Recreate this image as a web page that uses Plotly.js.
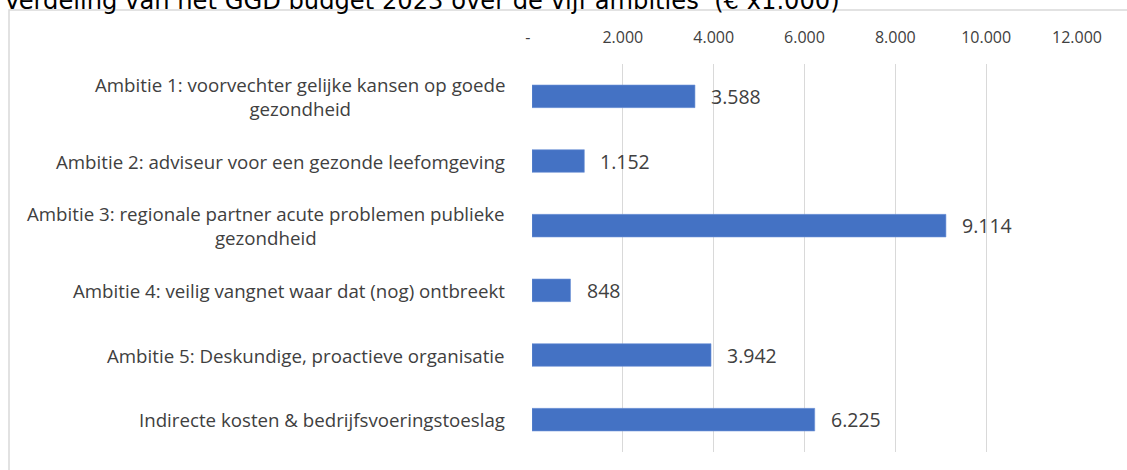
<!DOCTYPE html>
<html>
<head>
<meta charset="utf-8">
<script src="https://cdn.plot.ly/plotly-3.0.1.min.js"></script>
<style>
html,body{margin:0;padding:0;background:#fff;}
#chart{width:1127px;height:470px;}
</style>
</head>
<body>
<div id="chart"></div>
<script>
const chartTitle = "Verdeling van het GGD budget 2023 over de vijf ambities  (€ x1.000)";
const categories = [
  "Ambitie 1: voorvechter gelijke kansen op goede<br>gezondheid",
  "Ambitie 2: adviseur voor een gezonde leefomgeving",
  "Ambitie 3: regionale partner acute problemen publieke<br>gezondheid",
  "Ambitie 4: veilig vangnet waar dat (nog) ontbreekt",
  "Ambitie 5: Deskundige, proactieve organisatie",
  "Indirecte kosten & bedrijfsvoeringstoeslag"
];
const values = [3588, 1152, 9114, 848, 3942, 6225];
const tickValues = [0, 2000, 4000, 6000, 8000, 10000, 12000];
const tickLabels = ["-\u00a0\u00a0", "2.000", "4.000", "6.000", "8.000", "10.000", "12.000"];

const W = 1127, H = 470;
const M = {l: 532, r: 50, t: 64, b: 18};
const PW = W - M.l - M.r, PH = H - M.t - M.b;
const px2x = p => (p - M.l) / PW;
const px2y = p => (H - M.b - p) / PH;

function fmt(v) {
  return String(v).replace(/\B(?=(\d{3})+(?!\d))/g, ".");
}

const cats = categories.map((c, i) => "c" + i);

const trace = {
  type: "bar",
  orientation: "h",
  x: values,
  y: cats,
  width: 0.35,
  marker: {color: "#4472c4", line: {color: "#6f93d6", width: 0.6}},
  hoverinfo: "x+y"
};

const annotations = [];
categories.forEach((c, i) => {
  annotations.push({
    xref: "paper", yref: "y", x: 0, y: cats[i],
    xanchor: "right", yanchor: "middle", xshift: -25,
    text: c, showarrow: false, align: "center",
    font: {family: "Open Sans, sans-serif", size: 18.7, color: "#404040"}
  });
  annotations.push({
    xref: "x", yref: "y", x: values[i], y: cats[i],
    xanchor: "left", yanchor: "middle", xshift: 14,
    text: fmt(values[i]), showarrow: false,
    font: {family: "Open Sans, sans-serif", size: 19.5, color: "#404040"}
  });
});

const layout = {
  width: W, height: H,
  margin: M,
  paper_bgcolor: "#ffffff",
  plot_bgcolor: "#ffffff",
  showlegend: false,
  title: {
    text: chartTitle,
    xref: "container", yref: "container",
    x: 4 / W, xanchor: "left",
    y: 1 - 8.5 / H, yanchor: "bottom",
    pad: {t: 0, b: 0, l: 0, r: 0},
    font: {family: "DejaVu Sans, sans-serif", size: 24.2, color: "#000000"}
  },
  xaxis: {
    side: "top",
    range: [0, 12000],
    tickvals: tickValues,
    ticktext: tickLabels,
    showgrid: true,
    gridcolor: "#d9d9d9",
    gridwidth: 1.3,
    zeroline: false,
    showline: false,
    ticks: "",
    ticklabelstandoff: 17,
    tickfont: {family: "Open Sans, sans-serif", size: 16, color: "#404040"},
    fixedrange: true
  },
  yaxis: {
    type: "category",
    categoryarray: cats,
    range: [5.5, -0.5],
    showticklabels: false,
    showgrid: false,
    zeroline: false,
    showline: false,
    ticks: "",
    fixedrange: true
  },
  shapes: [{
    type: "rect", xref: "paper", yref: "paper",
    x0: px2x(9), x1: px2x(1140), y0: px2y(490), y1: px2y(10),
    line: {color: "#d9d9d9", width: 1.5}, fillcolor: "rgba(0,0,0,0)", layer: "below"
  }],
  annotations: annotations
};

Plotly.newPlot("chart", [trace], layout, {displayModeBar: false, staticPlot: true});
</script>
</body>
</html>
